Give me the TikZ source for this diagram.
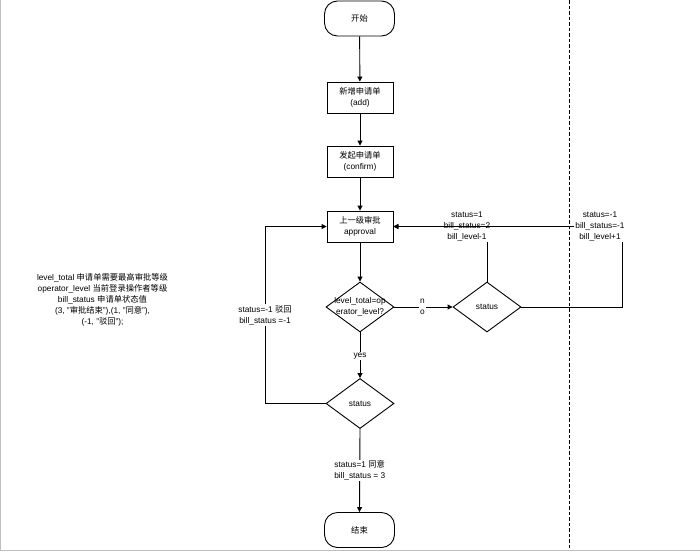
\documentclass[tikz,border=0pt]{standalone}
\usepackage{fontspec}
\setmainfont{Liberation Sans}
\newfontfamily\cjk{Noto Sans CJK SC}
\newcommand\zh[1]{{\cjk #1}}
\usetikzlibrary{shapes.geometric,arrows.meta}
\begin{document}
\begin{tikzpicture}[x=1pt,y=-1pt,
  every node/.style={font=\fontsize{8.3}{11}\selectfont},
  box/.style={draw,minimum width=66pt,minimum height=31pt,align=center,inner sep=1pt},
  term/.style={draw,rounded corners=13pt,minimum width=70pt,minimum height=35pt},
  dia/.style={draw,diamond,minimum width=68pt,minimum height=50pt,inner sep=0pt},
  lbl/.style={fill=white,align=center,inner sep=1pt},
  arr/.style={-{Triangle[length=5pt,width=5pt]}},
  line width=0.9pt]
\useasboundingbox (0,0) rectangle (700,557);
\draw[black!25,line width=1pt] (0.5,0) -- (0.5,550.5) -- (700,550.5);

\node[term] (start) at (359.5,18.5) {\zh{开始}};
\node[box] (add) at (360,97.5) {\zh{新增申请单}\\(add)};
\node[box] (conf) at (360,161.5) {\zh{发起申请单}\\(confirm)};
\node[box] (app) at (360,226.5) {\zh{上一级审批}\\approval};
\node[dia,label={[align=center]center:level\_total=op\\erator\_level?}] (d1) at (360,307) {};
\node[dia] (s2) at (487,307) {status};
\node[dia] (s3) at (360,403.5) {status};
\node[term] (end) at (359.5,530) {\zh{结束}};

\coordinate (lp) at (265,226.5);
\coordinate (rp) at (622.5,226.5);

\draw[arr] (start) -- (add);
\draw[arr] (add) -- (conf);
\draw[arr] (conf) -- (app);
\draw[arr] (app) -- (d1);
\draw[arr] (d1.south) -- node[lbl,pos=0.52] {yes} (s3.north);
\draw[arr] (d1.east) -- node[lbl,pos=0.48] {n\\o} (s2.west);
\draw[arr] (s3.south) -- node[lbl,pos=0.5] {status=1 \zh{同意}\\bill\_status = 3} (end.north);
\draw[arr] (s3.west) -| node[lbl,pos=0.75] {status=-1 \zh{驳回}\\bill\_status =-1} (lp) -- (app.west);
\draw[arr] (s2.north) |- (app.east);
\node[lbl] (l1) at (467,226) {status=1\\bill\_status=2\\bill\_level-1};
\draw[arr] (s2.east) -| (rp) -- (app.east);
\node[lbl] (l2) at (600,226) {status=-1\\bill\_status=-1\\bill\_level+1};

\draw[line width=1pt,dash pattern=on 3.5pt off 2pt] (569,0) -- (569,548);

\node[align=center] (note) at (102.5,300) {level\_total \zh{申请单需要最高审批等级}\\operator\_level \zh{当前登录操作者等级}\\bill\_status \zh{申请单状态值}\\(3, "\zh{审批结束}"),(1, "\zh{同意}"),\\(-1, "\zh{驳回}");};
\end{tikzpicture}
\end{document}
